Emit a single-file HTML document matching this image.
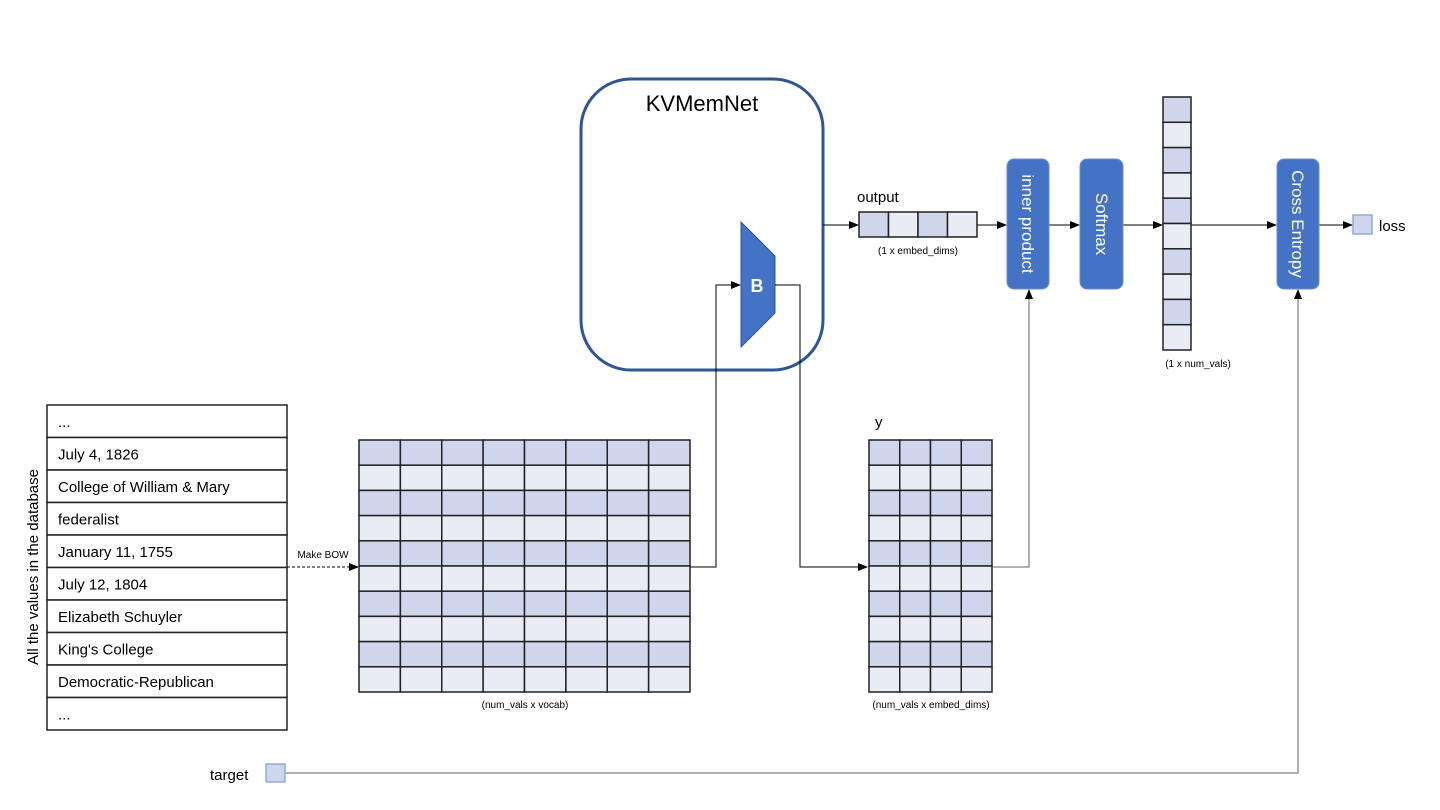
<!DOCTYPE html>
<html><head><meta charset="utf-8"><style>
html,body{margin:0;padding:0;background:#fff;width:1440px;height:810px;overflow:hidden}
svg{display:block;font-family:"Liberation Sans",sans-serif}
</style></head><body>
<svg id="d" width="1440" height="810" viewBox="0 0 1440 810">
<defs><marker id="ar" markerWidth="10" markerHeight="8" refX="9" refY="4" orient="auto" markerUnits="userSpaceOnUse"><path d="M0,0 L10,4 L0,8 Z" fill="#000"/></marker></defs>
<rect x="581" y="79" width="242" height="291" rx="50" fill="none" stroke="#2f5597" stroke-width="3"/>
<text x="702" y="111" font-size="22" text-anchor="middle" fill="#000">KVMemNet</text>
<polygon points="741,222 775,256 775,313 741,347" fill="#4472c4" stroke="#2f5597" stroke-width="1"/>
<text x="757" y="292" font-size="18" font-weight="bold" fill="#fff" text-anchor="middle">B</text>
<g fill="none" stroke="#000" stroke-width="1">
<polyline points="690,567 716,567 716,285 740,285" marker-end="url(#ar)"/>
<polyline points="775,285 800,285 800,567 867,567" marker-end="url(#ar)"/>
<polyline points="823,225 858,225" marker-end="url(#ar)"/>
<polyline points="977,225 1006,225" marker-end="url(#ar)"/>
<polyline points="1049,225 1079,225" marker-end="url(#ar)"/>
<polyline points="1123,225 1162,225" marker-end="url(#ar)"/>
<polyline points="1191,225 1276,225" marker-end="url(#ar)"/>
<polyline points="1319,225 1352,225" marker-end="url(#ar)"/>
<polyline points="287,567 358,567" stroke-dasharray="3,2" marker-end="url(#ar)"/>
</g>
<g fill="none" stroke="#666" stroke-width="1">
<polyline points="993,567 1029,567 1029,290" marker-end="url(#ar)"/>
<polyline points="285,773 1298,773 1298,290" marker-end="url(#ar)"/>
</g>
<text x="857" y="202" font-size="15">output</text>
<text x="918" y="254" font-size="10" text-anchor="middle">(1 x embed_dims)</text>
<rect x="1007" y="159" width="42" height="130" rx="7" fill="#4472c4" stroke="#6a8fd0"/>
<text transform="translate(1022,224) rotate(90)" font-size="17" fill="#fff" text-anchor="middle">inner product</text>
<rect x="1080" y="159" width="43" height="130" rx="7" fill="#4472c4" stroke="#6a8fd0"/>
<text transform="translate(1096,224) rotate(90)" font-size="17" fill="#fff" text-anchor="middle">Softmax</text>
<rect x="1277" y="159" width="42" height="130" rx="7" fill="#4472c4" stroke="#6a8fd0"/>
<text transform="translate(1292,224) rotate(90)" font-size="17" fill="#fff" text-anchor="middle">Cross Entropy</text>
<text x="1198" y="367" font-size="10" text-anchor="middle">(1 x num_vals)</text>
<rect x="1353" y="215" width="19" height="19" fill="#cfd5ea" stroke="#8faadc" stroke-width="1.5"/>
<text x="1379" y="231" font-size="15">loss</text>
<rect x="266" y="764" width="19" height="18" fill="#cfd5ea" stroke="#8faadc" stroke-width="1.5"/>
<text x="210" y="780" font-size="15">target</text>
<text x="875" y="427" font-size="15">y</text>
<text x="525" y="708" font-size="10" text-anchor="middle">(num_vals x vocab)</text>
<text x="931" y="708" font-size="10" text-anchor="middle">(num_vals x embed_dims)</text>
<text x="323" y="558" font-size="10" text-anchor="middle">Make BOW</text>
<text transform="translate(38,567) rotate(-90)" font-size="15" text-anchor="middle">All the values in the database</text>
<g id="cells"></g>
<g id="list"></g>
</svg>
<script>
const listItems=["...","July 4, 1826","College of William & Mary","federalist","January 11, 1755","July 12, 1804","Elizabeth Schuyler","King's College","Democratic-Republican","..."];
const NS="http://www.w3.org/2000/svg";
const cg=document.getElementById('cells');
function grid(name,x0,y0,w,h,cols,rows){
  const cw=w/cols,rh=h/rows;
  for(let r=0;r<rows;r++)for(let c=0;c<cols;c++){
    const e=document.createElementNS(NS,'rect');
    e.setAttribute('x',x0+c*cw);e.setAttribute('y',y0+r*rh);
    e.setAttribute('width',cw);e.setAttribute('height',rh);
    e.setAttribute('fill',r%2===0?'#cfd5ea':'#e9ebf5');
    e.setAttribute('stroke','#222');e.setAttribute('stroke-width','1.5');
    
    
    cg.appendChild(e);
  }
}
grid('bow-matrix',359,440,331,252,8,10);
grid('y-matrix',869,440,123,252,4,10);
grid('probs-vector',1163,97,28,253,1,10);
(function(){const x0=859,cw=29.5;for(let c=0;c<4;c++){const e=document.createElementNS(NS,'rect');
e.setAttribute('x',x0+c*cw);e.setAttribute('y',212);e.setAttribute('width',cw);e.setAttribute('height',25);
e.setAttribute('fill',c%2===0?'#cfd5ea':'#e9ebf5');e.setAttribute('stroke','#222');e.setAttribute('stroke-width','1.5');


cg.appendChild(e);}})();
const lg=document.getElementById('list');
const rh=32.5;
listItems.forEach((t,i)=>{
  const r=document.createElementNS(NS,'rect');
  r.setAttribute('x',47);r.setAttribute('y',405+i*rh);r.setAttribute('width',240);r.setAttribute('height',rh);
  r.setAttribute('fill','#fff');r.setAttribute('stroke','#222');r.setAttribute('stroke-width','1.5');
  
  
  lg.appendChild(r);
  const tx=document.createElementNS(NS,'text');
  tx.setAttribute('x',58);tx.setAttribute('y',405+i*rh+22);tx.setAttribute('font-size','15');
  tx.textContent=t;
  
  
  lg.appendChild(tx);
});
</script>
</body></html>
